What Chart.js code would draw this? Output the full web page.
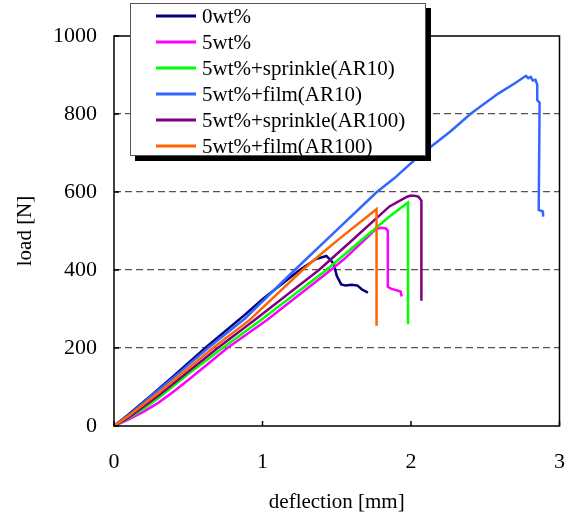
<!DOCTYPE html>
<html>
<head>
<meta charset="utf-8">
<script src="https://cdn.jsdelivr.net/npm/chart.js@4/dist/chart.umd.min.js"></script>
<style>
  html, body { margin: 0; padding: 0; background: #fff; }
  canvas { display: block; }
</style>
</head>
<body>
<canvas id="myChart" width="588" height="517"></canvas>
<script>
// series names as shown in the legend
const seriesNames = ['0wt%', '5wt%', '5wt%+sprinkle(AR10)', '5wt%+film(AR10)', '5wt%+sprinkle(AR100)', '5wt%+film(AR100)'];
const seriesColors = ['#00007f', '#ff00ff', '#00ff00', '#3366ff', '#800080', '#ff6600'];

// deflection [mm] / load [N]
const defl0 = [0, 0.1, 0.25, 0.4, 0.63, 0.88, 1.0, 1.25, 1.36, 1.43, 1.46, 1.48, 1.50, 1.53, 1.56, 1.60, 1.64, 1.67, 1.71];
const load0 = [0, 30, 78, 128, 205, 285, 325, 400, 428, 436, 425, 415, 385, 363, 360, 362, 360, 350, 342];

const defl5 = [0, 0.1, 0.2, 0.3, 0.4, 0.5, 0.763, 1.03, 1.46, 1.55, 1.70, 1.757, 1.78, 1.81, 1.833, 1.844, 1.844, 1.865, 1.93, 1.937];
const load5 = [0, 17, 37, 60, 88, 118, 200, 272, 400, 428, 482, 503, 507, 508, 506, 500, 357, 352, 345, 332];

const deflSprinkle10 = [0, 0.1, 0.2, 0.3, 0.5, 0.731, 0.99, 1.43, 1.6, 1.855, 1.98, 1.98];
const loadSprinkle10 = [0, 20, 44, 72, 133, 200, 272, 400, 455, 537, 573, 261];

const deflFilm10 = [0, 0.1, 0.245, 0.45, 0.633, 0.88, 1.217, 1.466, 1.77, 1.887, 2.05, 2.265, 2.406, 2.59, 2.70, 2.774, 2.79, 2.806, 2.82, 2.838, 2.85, 2.85, 2.866, 2.86, 2.888, 2.89];
const loadFilm10 = [0, 28, 75, 140, 200, 275, 400, 490, 600, 635, 691, 755, 802, 853, 879, 898, 892, 895, 886, 888, 875, 836, 829, 554, 550, 537];

const deflSprinkle100 = [0, 0.1, 0.3, 0.698, 0.947, 1.38, 1.6, 1.855, 1.974, 2.0, 2.03, 2.05, 2.07, 2.07];
const loadSprinkle100 = [0, 22, 78, 200, 272, 400, 475, 563, 588, 591, 590, 588, 578, 321];

const deflFilm100 = [0, 0.1, 0.3, 0.666, 0.914, 1.27, 1.40, 1.55, 1.768, 1.768];
const loadFilm100 = [0, 26, 85, 200, 272, 400, 443, 490, 556, 257];

const xTicks = [0, 1, 2, 3];
const yTicks = [0, 200, 400, 600, 800, 1000];

const allDefl = [defl0, defl5, deflSprinkle10, deflFilm10, deflSprinkle100, deflFilm100];
const allLoad = [load0, load5, loadSprinkle10, loadFilm10, loadSprinkle100, loadFilm100];

const serif = "'Liberation Serif', 'Times New Roman', serif";

function toPoints(xs, ys) {
  return xs.map((v, i) => ({ x: v, y: ys[i] }));
}

const datasets = seriesNames.map((name, i) => ({
  label: name,
  data: toPoints(allDefl[i], allLoad[i]),
  borderColor: seriesColors[i],
  backgroundColor: seriesColors[i],
  borderWidth: 2.5,
  pointRadius: 0,
  tension: 0,
  fill: false,
  clip: 4,
  order: seriesNames.length - i   // later series drawn on top, like the original
}));

// plot frame + small inward tick marks
const framePlugin = {
  id: 'frame',
  afterDatasetsDraw(chart) {
    const { ctx, chartArea: a, scales } = chart;
    ctx.save();
    ctx.strokeStyle = '#000';
    ctx.lineWidth = 1.5;
    ctx.strokeRect(a.left, a.top, a.right - a.left, a.bottom - a.top);
    ctx.beginPath();
    scales.y.ticks.forEach(t => {
      const py = scales.y.getPixelForValue(t.value);
      ctx.moveTo(a.left, py);
      ctx.lineTo(a.left + 5, py);
    });
    scales.x.ticks.forEach(t => {
      const px = scales.x.getPixelForValue(t.value);
      ctx.moveTo(px, a.bottom);
      ctx.lineTo(px, a.bottom - 5);
    });
    ctx.stroke();
    ctx.restore();
  }
};

// boxed legend with a drop shadow, sitting over the top of the plot
const boxLegend = {
  id: 'boxLegend',
  afterDraw(chart) {
    const ctx = chart.ctx;
    const bx = 130, by = 3, bw = 296, bh = 153, sh = 5;
    ctx.save();
    ctx.setLineDash([]);
    // shadow strips (right and bottom)
    ctx.fillStyle = '#000';
    ctx.fillRect(bx + bw, by + sh, sh, bh);
    ctx.fillRect(bx + sh, by + bh, bw, sh);
    ctx.fillStyle = '#fff';
    ctx.fillRect(bx, by, bw, bh);
    ctx.strokeStyle = '#555';
    ctx.lineWidth = 1;
    ctx.strokeRect(bx + 0.5, by + 0.5, bw - 1, bh - 1);
    ctx.font = '21px ' + serif;
    ctx.textBaseline = 'middle';
    ctx.textAlign = 'left';
    chart.data.datasets.forEach((ds, i) => {
      const ly = 16 + i * 26;
      ctx.strokeStyle = ds.borderColor;
      ctx.lineWidth = 3;
      ctx.beginPath();
      ctx.moveTo(156, ly);
      ctx.lineTo(196, ly);
      ctx.stroke();
      ctx.fillStyle = '#000';
      ctx.fillText(ds.label, 202, ly + 1);
    });
    ctx.restore();
  }
};

const config = {
  type: 'line',
  data: { datasets: datasets },
  options: {
    responsive: false,
    animation: false,
    devicePixelRatio: 1,
    layout: { padding: { top: 36, right: 11, left: 0, bottom: 0 } },
    plugins: {
      legend: { display: false },
      tooltip: { enabled: false }
    },
    scales: {
      x: {
        type: 'linear',
        min: 0,
        max: 3,
        afterBuildTicks: scale => { scale.ticks = xTicks.map(v => ({ value: v })); },
        afterFit: scale => { scale.height = 91; },
        ticks: {
          padding: 23,
          color: '#000',
          font: { family: serif, size: 22 },
          maxRotation: 0,
          callback: v => String(v)
        },
        grid: { display: false, drawTicks: false },
        border: { display: false },
        title: {
          display: true,
          text: 'deflection [mm]',
          color: '#000',
          font: { family: serif, size: 21 },
          padding: { top: 0, bottom: 2 }
        }
      },
      y: {
        type: 'linear',
        min: 0,
        max: 1000,
        afterBuildTicks: scale => { scale.ticks = yTicks.map(v => ({ value: v })); },
        afterFit: scale => { scale.width = 114; },
        ticks: {
          padding: 17,
          color: '#000',
          font: { family: serif, size: 22 },
          callback: v => String(v)
        },
        grid: {
          drawTicks: false,
          lineWidth: 1.2,
          color: c => (c.tick && (c.tick.value === 0 || c.tick.value === 1000)) ? 'rgba(0,0,0,0)' : '#555'
        },
        border: { display: false, dash: [7, 4] },
        title: {
          display: true,
          text: 'load [N]',
          color: '#000',
          font: { family: serif, size: 21 },
          padding: { top: 13, bottom: 0 }
        }
      }
    }
  },
  plugins: [framePlugin, boxLegend]
};

const ctx = document.getElementById('myChart').getContext('2d');
const myChart = new Chart(ctx, config);
</script>
</body>
</html>
